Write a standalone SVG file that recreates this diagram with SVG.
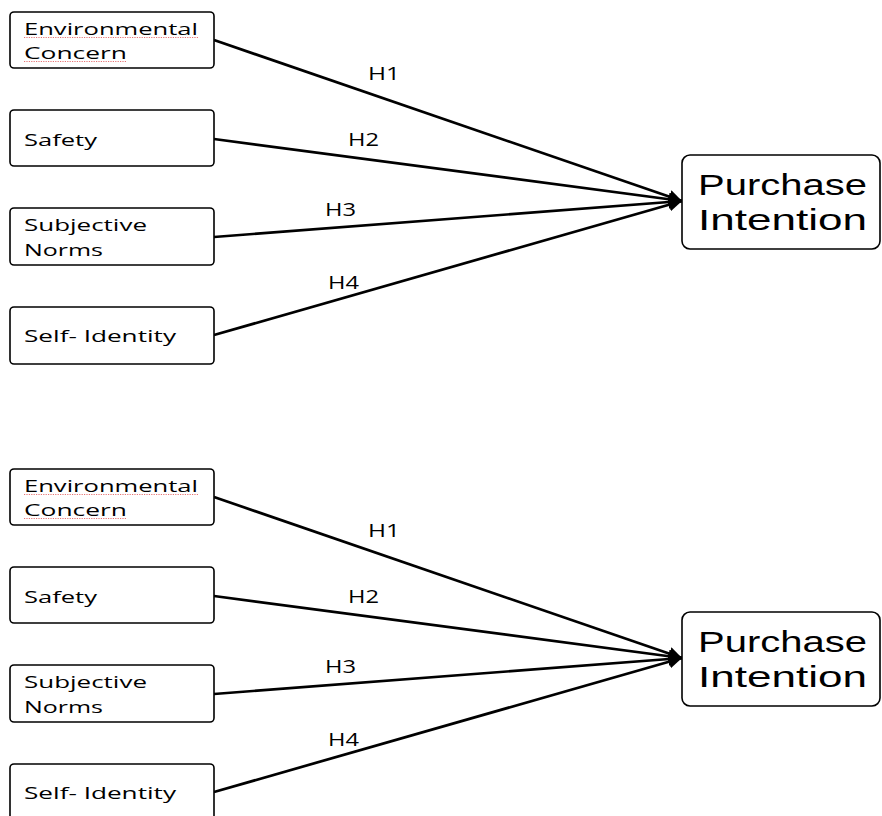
<svg xmlns="http://www.w3.org/2000/svg" width="882" height="816" viewBox="0 0 882 816">
<defs>
<style>
.box{fill:#fff;stroke:#000;stroke-width:1.6}
.t{font-family:"Open Sans","DejaVu Sans",sans-serif;font-size:17px;fill:#000}
.big{font-family:"Liberation Sans",Arial,sans-serif;font-size:30px;fill:#000}
.lbl{font-family:"Open Sans","DejaVu Sans",sans-serif;font-size:18px;fill:#000}
.edge{stroke:#000;stroke-width:2.7;fill:none;marker-end:url(#ah)}
.sq{stroke:#e05050;stroke-width:0.8;fill:none;stroke-dasharray:1.2 1.2}
</style>
<marker id="ah" viewBox="0 0 10 10" refX="10" refY="5" markerWidth="5" markerHeight="5" orient="auto" markerUnits="strokeWidth">
<path d="M0,0 L10,5 L0,10 z" fill="#000"/>
</marker>
</defs>
<rect width="882" height="816" fill="#fff"/>

<g id="diagram-top">
<g id="connectors-top">
<line class="edge" x1="214" y1="40" x2="682" y2="201"/>
<line class="edge" x1="214" y1="139" x2="682" y2="201"/>
<line class="edge" x1="214" y1="237" x2="682" y2="201"/>
<line class="edge" x1="214" y1="335" x2="682" y2="201"/>
<text class="lbl" x="368" y="80" textLength="32" lengthAdjust="spacingAndGlyphs">H1</text>
<text class="lbl" x="348" y="146" textLength="31" lengthAdjust="spacingAndGlyphs">H2</text>
<text class="lbl" x="325" y="216" textLength="31" lengthAdjust="spacingAndGlyphs">H3</text>
<text class="lbl" x="328" y="289" textLength="31" lengthAdjust="spacingAndGlyphs">H4</text>
</g>
<g id="env-top">
<rect class="box" x="10" y="12" width="204" height="56" rx="4"/>
<text class="t" x="24" y="35" textLength="174" lengthAdjust="spacingAndGlyphs">Environmental</text>
<text class="t" x="24" y="59" textLength="103" lengthAdjust="spacingAndGlyphs">Concern</text>
<line class="sq" x1="24" y1="37.5" x2="198" y2="37.5"/>
<line class="sq" x1="24" y1="61.5" x2="127" y2="61.5"/>
</g>
<g id="safety-top">
<rect class="box" x="10" y="110" width="204" height="56" rx="4"/>
<text class="t" x="24" y="146" textLength="73" lengthAdjust="spacingAndGlyphs">Safety</text>
</g>
<g id="norms-top">
<rect class="box" x="10" y="208" width="204" height="57" rx="4"/>
<text class="t" x="24" y="231" textLength="123" lengthAdjust="spacingAndGlyphs">Subjective</text>
<text class="t" x="24" y="256" textLength="79" lengthAdjust="spacingAndGlyphs">Norms</text>
</g>
<g id="identity-top">
<rect class="box" x="10" y="307" width="204" height="57" rx="4"/>
<text class="t" x="24" y="342" textLength="152" lengthAdjust="spacingAndGlyphs">Self- Identity</text>
</g>
<g id="purchase-top">
<rect class="box" x="682" y="155" width="198" height="94" rx="8"/>
<text class="big" x="698" y="195" textLength="169" lengthAdjust="spacingAndGlyphs">Purchase</text>
<text class="big" x="698" y="230" textLength="169" lengthAdjust="spacingAndGlyphs">Intention</text>
</g>
</g>

<g id="diagram-bottom" transform="translate(0,457)">
<g id="connectors-bottom">
<line class="edge" x1="214" y1="40" x2="682" y2="201"/>
<line class="edge" x1="214" y1="139" x2="682" y2="201"/>
<line class="edge" x1="214" y1="237" x2="682" y2="201"/>
<line class="edge" x1="214" y1="335" x2="682" y2="201"/>
<text class="lbl" x="368" y="80" textLength="32" lengthAdjust="spacingAndGlyphs">H1</text>
<text class="lbl" x="348" y="146" textLength="31" lengthAdjust="spacingAndGlyphs">H2</text>
<text class="lbl" x="325" y="216" textLength="31" lengthAdjust="spacingAndGlyphs">H3</text>
<text class="lbl" x="328" y="289" textLength="31" lengthAdjust="spacingAndGlyphs">H4</text>
</g>
<g id="env-bottom">
<rect class="box" x="10" y="12" width="204" height="56" rx="4"/>
<text class="t" x="24" y="35" textLength="174" lengthAdjust="spacingAndGlyphs">Environmental</text>
<text class="t" x="24" y="59" textLength="103" lengthAdjust="spacingAndGlyphs">Concern</text>
<line class="sq" x1="24" y1="37.5" x2="198" y2="37.5"/>
<line class="sq" x1="24" y1="61.5" x2="127" y2="61.5"/>
</g>
<g id="safety-bottom">
<rect class="box" x="10" y="110" width="204" height="56" rx="4"/>
<text class="t" x="24" y="146" textLength="73" lengthAdjust="spacingAndGlyphs">Safety</text>
</g>
<g id="norms-bottom">
<rect class="box" x="10" y="208" width="204" height="57" rx="4"/>
<text class="t" x="24" y="231" textLength="123" lengthAdjust="spacingAndGlyphs">Subjective</text>
<text class="t" x="24" y="256" textLength="79" lengthAdjust="spacingAndGlyphs">Norms</text>
</g>
<g id="identity-bottom">
<rect class="box" x="10" y="307" width="204" height="57" rx="4"/>
<text class="t" x="24" y="342" textLength="152" lengthAdjust="spacingAndGlyphs">Self- Identity</text>
</g>
<g id="purchase-bottom">
<rect class="box" x="682" y="155" width="198" height="94" rx="8"/>
<text class="big" x="698" y="195" textLength="169" lengthAdjust="spacingAndGlyphs">Purchase</text>
<text class="big" x="698" y="230" textLength="169" lengthAdjust="spacingAndGlyphs">Intention</text>
</g>
</g>
</svg>
